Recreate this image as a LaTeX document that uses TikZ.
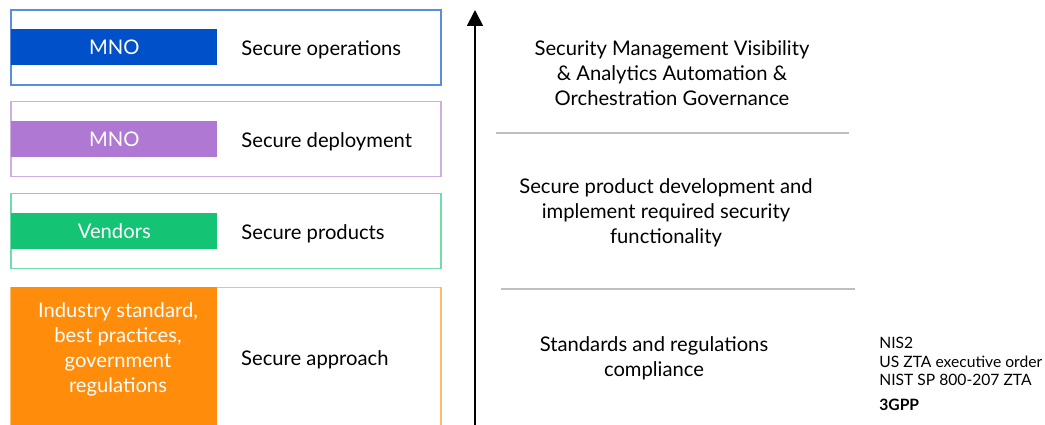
\documentclass[tikz,border=0pt]{standalone}
\usepackage{fontspec}
\setmainfont{Lato}
\usepackage{xcolor}
\usetikzlibrary{arrows.meta,positioning}

\definecolor{opsblue}{HTML}{0050CA}
\definecolor{deplpurple}{HTML}{AF78D2}
\definecolor{vendgreen}{HTML}{14C373}
\definecolor{apprange}{HTML}{FF8C0A}
\definecolor{rulegrey}{HTML}{BFBFBF}

\begin{document}
\begin{tikzpicture}[
x=0.02cm, y=-0.02cm,
frame/.style={draw, line width=0.8pt, minimum width=8.6cm, minimum height=1.5cm, inner sep=0pt},
bar/.style={fill=#1, text=white, minimum width=4.12cm, minimum height=0.72cm, inner sep=0pt, anchor=west, font=\fontsize{11.5}{14}\selectfont},
layer/.style={anchor=west, yshift=-1.5pt, font=\fontsize{11.5}{14}\selectfont},
goal/.style={align=center, font=\fontsize{11.5}{14.2}\selectfont},
rule/.style={draw=rulegrey, line width=0.6pt},
arrow/.style={-{Triangle[width=9pt,length=9pt]}, line width=1pt}
]
\clip (0,0) rectangle (1045,424);
\fill[white] (0,0) rectangle (1045,424);

% layer frames with coloured bars
\node[frame, draw=opsblue!65] (ops) at (226,47.5) {};
\node[bar=opsblue] (opsbar) at (11,47) {MNO};
\node[layer, right=10pt of opsbar.east, anchor=west] (opstext) {Secure operations};

\node[frame, draw=deplpurple!60] (depl) at (226,139) {};
\node[bar=deplpurple] (deplbar) at (11,139) {MNO};
\node[layer, right=10pt of deplbar.east, anchor=west] (depltext) {Secure deployment};

\node[frame, draw=vendgreen!60] (vend) at (226,231) {};
\node[bar=vendgreen] (vendbar) at (11,231) {Vendors};
\node[layer, right=10pt of vendbar.east, anchor=west] (vendtext) {Secure products};

\node[frame, draw=apprange!60, minimum height=2.9cm, anchor=north] (appr) at (226,287) {};
\node[fill=apprange, minimum width=4.12cm, minimum height=2.9cm, inner sep=0pt, anchor=north west] (apprbar) at (11,287) {};
\node[goal, text=white] (apprtext) at (118,349) {Industry standard,\\best practices,\\government\\regulations};
\node[layer] (apprlabel) at (235,357) {Secure approach};

% maturity axis
\coordinate (axbot) at (475,430);
\coordinate (axtop) at (475,10);
\draw[arrow] (axbot) -- (axtop);

\node[goal] (mgmt) at (672,73) {Security Management Visibility\\\& Analytics Automation \&\\Orchestration Governance};
\coordinate (r1a) at (496,133);
\coordinate (r1b) at (849,133);
\draw[rule] (r1a) -- (r1b);

\node[goal] (dev) at (666,213) {Secure product development and\\implement required security\\functionality};
\coordinate (r2a) at (501,289);
\coordinate (r2b) at (855,289);
\draw[rule] (r2a) -- (r2b);

\node[goal] (stds) at (654,358) {Standards and regulations\\compliance};

\node[anchor=north west, align=left, inner sep=0pt, font=\fontsize{8.9}{10.5}\selectfont] (regs) at (879,337)
  {NIS2\\US ZTA executive order\\NIST SP 800-207 ZTA};
\node[inner sep=0pt, font=\fontsize{8.9}{10.5}\selectfont\bfseries, below=7pt of regs.south west, anchor=north west] (tgpp) {3GPP};
\end{tikzpicture}
\end{document}
